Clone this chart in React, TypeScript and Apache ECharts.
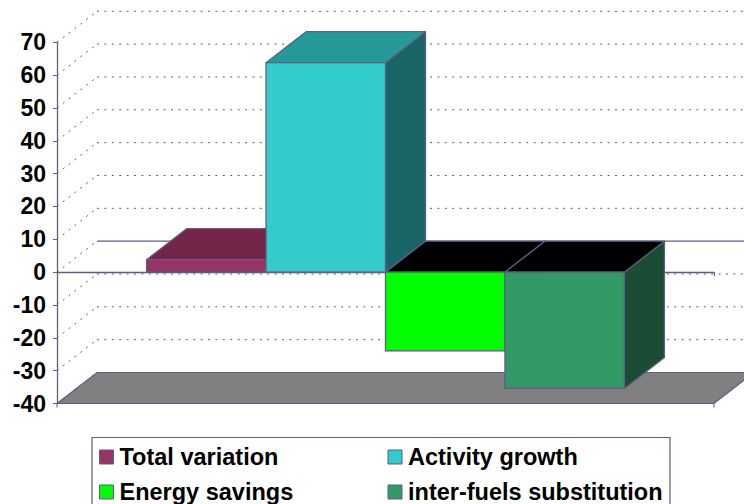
import React, { useEffect, useRef } from "react";
import * as echarts from "echarts";

const categories = ["Change"];
const seriesNames = ["Total variation", "Activity growth", "Energy savings", "inter-fuels substitution"];
const seriesValues = [3.8, 63.8, -24, -35.4];
const frontColors = ["#993366", "#33CCCC", "#00FF00", "#339966"];
const topColors = ["#732649", "#269999", "#000000", "#000000"];
const sideColors = ["#732649", "#1A6666", "#008000", "#1A4D33"];
const wallTicks = [-40, -30, -20, -10, 0, 10, 20, 30, 40, 50, 60, 70];

const EDGE = "#5F5D82";
const DEPTH_X = 40;
const DEPTH_Y = 31;
const BANDS_PER_BAR = 5.5;
const FONT = "'Liberation Sans', Arial, sans-serif";

// One oblique box per series: front face, cap and right side.
function boxRenderer(index: number) {
  return (_params: any, api: any) => {
    const value = api.value(1);
    const centre = api.coord([0, 0]);
    const end = api.coord([0, value]);
    const width = api.size([1, 0])[0] / BANDS_PER_BAR;
    const x0 = centre[0] + (index - 2) * width;
    const x1 = x0 + width;
    const top = Math.min(centre[1], end[1]);
    const bottom = Math.max(centre[1], end[1]);
    const stroke = { stroke: EDGE, lineWidth: 1.3, lineJoin: "round" };
    return {
      type: "group",
      children: [
        {
          type: "polygon",
          shape: { points: [[x1, top], [x1 + DEPTH_X, top - DEPTH_Y], [x1 + DEPTH_X, bottom - DEPTH_Y], [x1, bottom]] },
          style: { fill: sideColors[index], ...stroke },
        },
        {
          type: "polygon",
          shape: { points: [[x0, top], [x0 + DEPTH_X, top - DEPTH_Y], [x1 + DEPTH_X, top - DEPTH_Y], [x1, top]] },
          style: { fill: topColors[index], ...stroke },
        },
        {
          type: "rect",
          shape: { x: x0, y: top, width, height: bottom - top },
          style: { fill: frontColors[index], ...stroke },
        },
      ],
    };
  };
}

// Dotted gridline for a tick: slanted along the side wall, then level along the back wall.
function wallRenderer(_params: any, api: any) {
  const value = api.value(1);
  const left = api.coord([0, value]);
  const band = api.size([1, 0])[0];
  const xStart = left[0] - band / 2;
  const xEnd = left[0] + band / 2;
  const y = left[1];
  const solid = value === 0 || value === -40;
  const dotted = { stroke: EDGE, lineWidth: 1, lineDash: [2, 5.4] };
  return {
    type: "group",
    children: [
      {
        type: "line",
        shape: { x1: xStart, y1: y, x2: xStart + DEPTH_X, y2: y - DEPTH_Y },
        style: dotted,
      },
      {
        type: "line",
        shape: { x1: xStart + DEPTH_X, y1: y - DEPTH_Y, x2: xEnd + DEPTH_X, y2: y - DEPTH_Y },
        style: solid ? { stroke: EDGE, lineWidth: 1.2 } : dotted,
      },
    ],
  };
}

// Grey floor at the bottom of the value axis, with its two corner ticks.
function floorRenderer(_params: any, api: any) {
  const left = api.coord([0, api.value(1)]);
  const band = api.size([1, 0])[0];
  const xStart = left[0] - band / 2;
  const xEnd = left[0] + band / 2;
  const y = left[1];
  return {
    type: "group",
    children: [
      {
        type: "polygon",
        shape: { points: [[xStart, y], [xStart + DEPTH_X, y - DEPTH_Y], [xEnd + DEPTH_X, y - DEPTH_Y], [xEnd, y]] },
        style: { fill: "#808080", stroke: EDGE, lineWidth: 1.2 },
      },
      { type: "line", shape: { x1: xStart, y1: y, x2: xStart, y2: y + 4 }, style: { stroke: EDGE, lineWidth: 1 } },
      { type: "line", shape: { x1: xEnd, y1: y, x2: xEnd, y2: y + 4 }, style: { stroke: EDGE, lineWidth: 1 } },
    ],
  };
}

const legendBase = {
  orient: "vertical" as const,
  icon: "rect",
  itemWidth: 14,
  itemHeight: 14,
  itemGap: 11,
  padding: 0,
  width: 300,
  height: 200,
  selectedMode: false,
  itemStyle: { borderColor: EDGE, borderWidth: 1 },
  textStyle: { fontFamily: FONT, fontWeight: "bold" as const, fontSize: 23.5, lineHeight: 20, color: "#000", padding: [0, 0, 0, 1] },
};

export default function App() {
  const ref = useRef<HTMLDivElement>(null);

  useEffect(() => {
    if (!ref.current) return;
    const chart = echarts.init(ref.current, undefined, { renderer: "svg" });
    chart.setOption({
      animation: false,
      backgroundColor: "#fff",
      grid: { left: 57, right: 30, top: 42.3, bottom: 100.5 },
      xAxis: {
        type: "category",
        data: categories,
        axisLine: { onZero: true, lineStyle: { color: EDGE, width: 1.3 } },
        axisTick: { show: true, length: 4, lineStyle: { color: EDGE } },
        axisLabel: { show: false },
        splitLine: { show: false },
      },
      yAxis: {
        type: "value",
        min: -40,
        max: 70,
        interval: 10,
        axisLine: { show: true, onZero: false, lineStyle: { color: EDGE, width: 1.3 } },
        axisTick: { show: true, length: 4, lineStyle: { color: EDGE } },
        axisLabel: { margin: 11, fontFamily: FONT, fontWeight: "bold", fontSize: 23, color: "#000" },
        splitLine: { show: false },
      },
      legend: [
        { ...legendBase, data: [seriesNames[0], seriesNames[2]], left: 99, top: 445 },
        { ...legendBase, data: [seriesNames[1], seriesNames[3]], left: 387.5, top: 445 },
      ],
      graphic: [
        {
          type: "rect",
          z: -1,
          shape: { x: 92, y: 437.5, width: 578, height: 80 },
          style: { fill: "#fff", stroke: EDGE, lineWidth: 1.2 },
        },
      ],
      series: [
        {
          type: "custom",
          name: "floor",
          data: [[0, wallTicks[0]]],
          renderItem: floorRenderer,
          z: 1,
          silent: true,
        },
        {
          type: "custom",
          name: "walls",
          data: wallTicks.map((v) => [0, v]),
          renderItem: wallRenderer,
          z: 1,
          silent: true,
        },
        ...seriesNames.map((name, i) => ({
          type: "custom",
          name,
          data: [[0, seriesValues[i]]],
          renderItem: boxRenderer(i),
          itemStyle: { color: frontColors[i] },
          z: 3,
        })),
      ],
    });
    return () => chart.dispose();
  }, []);

  return <div ref={ref} style={{ position: "absolute", left: 0, top: 0, width: 744, height: 504 }} />;
}
